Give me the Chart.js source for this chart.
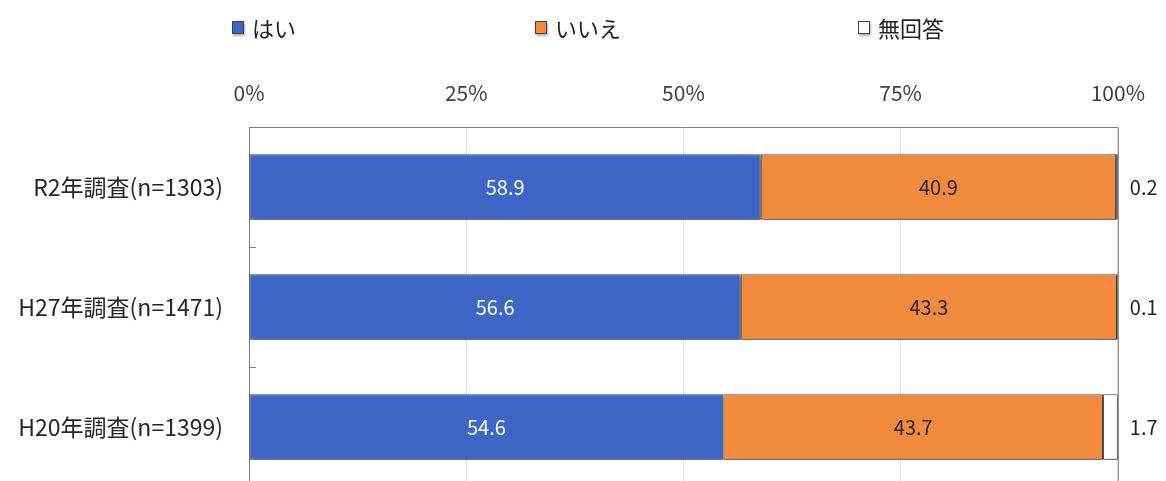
<!DOCTYPE html>
<html>
<head>
<meta charset="utf-8">
<script src="https://cdn.jsdelivr.net/npm/chart.js@4/dist/chart.umd.min.js"></script>
<style>
  html, body { margin: 0; padding: 0; background: #fff; overflow: hidden; }
  #wrap { position: relative; width: 1166px; height: 487px; }
</style>
</head>
<body>
<div id="wrap"><canvas id="myChart"></canvas></div>
<script>
// chart data
const categories = ['R2年調査(n=1303)', 'H27年調査(n=1471)', 'H20年調査(n=1399)'];
const seriesNames = ['はい', 'いいえ', '無回答'];
const yesValues = [58.9, 56.6, 54.6];
const noValues = [40.9, 43.3, 43.7];
const noAnswerValues = [0.2, 0.1, 1.7];
const tickLabels = ['0%', '25%', '50%', '75%', '100%'];

const FONT = '"Noto Sans CJK JP", "Noto Sans", sans-serif';
const colors = ['#3d66c6', '#f38b3f', '#ffffff'];

// bar shadows, inner tick marks, frame, value labels and legend
const decorPlugin = {
    id: 'decor',
    beforeDatasetsDraw(chart) {
        const ctx = chart.ctx;
        ctx.save();
        ctx.shadowColor = 'rgba(0,0,0,0.35)';
        ctx.shadowOffsetX = 1;
        ctx.shadowOffsetY = 4;
        ctx.shadowBlur = 4;
    },
    afterDatasetsDraw(chart) {
        const ctx = chart.ctx;
        ctx.restore();
        const area = chart.chartArea;
        const yScale = chart.scales.y;

        // frame (top and right)
        ctx.save();
        ctx.strokeStyle = '#808080';
        ctx.lineWidth = 1;
        ctx.beginPath();
        ctx.moveTo(area.left, area.top + 0.5);
        ctx.lineTo(area.right + 0.5, area.top + 0.5);
        ctx.lineTo(area.right + 0.5, area.bottom);
        ctx.stroke();

        // small tick marks between categories
        for (let i = 0; i < categories.length - 1; i++) {
            const y = Math.round((yScale.getPixelForValue(i) + yScale.getPixelForValue(i + 1)) / 2) + 0.5;
            ctx.beginPath();
            ctx.moveTo(area.left, y);
            ctx.lineTo(area.left + 7, y);
            ctx.stroke();
        }
        ctx.restore();

        // value labels
        ctx.save();
        ctx.font = '20px ' + FONT;
        ctx.textBaseline = 'middle';
        chart.data.datasets.forEach((ds, di) => {
            const meta = chart.getDatasetMeta(di);
            meta.data.forEach((bar, i) => {
                const p = bar.getProps(['x', 'y', 'base'], true);
                const text = ds.data[i].toFixed(1);
                if (di === 2) {
                    ctx.fillStyle = '#262626';
                    ctx.textAlign = 'left';
                    ctx.fillText(text, area.right + 12, p.y);
                } else {
                    ctx.fillStyle = di === 0 ? '#ffffff' : '#262626';
                    ctx.textAlign = 'center';
                    ctx.fillText(text, (p.x + p.base) / 2, p.y);
                }
            });
        });
        ctx.restore();

        // legend
        const legendX = [232, 535, 858];
        ctx.save();
        ctx.font = '22px ' + FONT;
        ctx.textBaseline = 'middle';
        ctx.textAlign = 'left';
        chart.data.datasets.forEach((ds, di) => {
            const x = legendX[di];
            const y = 28;
            ctx.save();
            ctx.shadowColor = 'rgba(0,0,0,0.3)';
            ctx.shadowOffsetX = 1;
            ctx.shadowOffsetY = 2;
            ctx.shadowBlur = 2;
            ctx.fillStyle = ds.backgroundColor;
            ctx.fillRect(x, y - 7, 12, 13);
            ctx.restore();
            ctx.strokeStyle = '#404040';
            ctx.lineWidth = 1;
            ctx.strokeRect(x + 0.5, y - 6.5, 11, 12);
            ctx.fillStyle = '#222';
            ctx.fillText(ds.label, x + 20, y + 1);
        });
        ctx.restore();
    }
};

const datasets = [yesValues, noValues, noAnswerValues].map((vals, i) => ({
    label: seriesNames[i],
    data: vals,
    backgroundColor: colors[i],
    borderColor: '#404040',
    borderWidth: 1,
    borderSkipped: false,
    categoryPercentage: 1,
    barPercentage: 0.545
}));

const ctx = document.getElementById('myChart').getContext('2d');
const chart = new Chart(ctx, {
    type: 'bar',
    data: { labels: categories, datasets: datasets },
    options: {
        indexAxis: 'y',
        responsive: true,
        maintainAspectRatio: false,
        animation: false,
        layout: { padding: { left: 0, right: 48, top: 0, bottom: 0 } },
        plugins: {
            legend: { display: false },
            tooltip: { enabled: false }
        },
        scales: {
            x: {
                position: 'top',
                stacked: true,
                min: 0,
                max: 100,
                grid: { color: '#e0e0e0', drawTicks: false },
                border: { display: true, color: '#808080' },
                ticks: {
                    stepSize: 25,
                    padding: 21,
                    color: '#404040',
                    font: { family: FONT, size: 21 },
                    callback: (v) => tickLabels[v / 25]
                },
                afterFit: (scale) => { scale.height = 127; }
            },
            y: {
                stacked: true,
                grid: { display: false, drawTicks: false },
                border: { display: true, color: '#808080' },
                ticks: {
                    padding: 26,
                    color: '#262626',
                    font: { family: FONT, size: 23 }
                },
                afterFit: (scale) => {
                    scale.width = 249;
                    scale.paddingTop = 0;
                    scale.paddingBottom = 0;
                }
            }
        }
    },
    plugins: [decorPlugin]
});
</script>
</body>
</html>
